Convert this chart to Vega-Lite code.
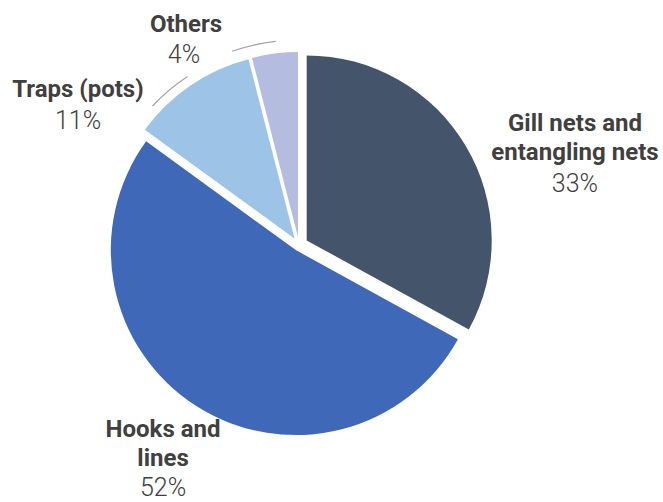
{
  "$schema": "https://vega.github.io/schema/vega-lite/v6.json",
  "autosize": {"type": "none"},
  "width": 598,
  "height": 490,
  "padding": {"left": 0, "top": 0, "right": 65, "bottom": 12},
  "background": "white",
  "config": {"view": {"stroke": null}},
  "data": {
    "values": [
      {"key": "gill", "name": "Gill nets and\nentangling nets", "pct": "33%", "value": 33, "order": 1},
      {"key": "hooks", "name": "Hooks and\nlines", "pct": "52%", "value": 52, "order": 2},
      {"key": "traps", "name": "Traps (pots)", "pct": "11%", "value": 11, "order": 3},
      {"key": "others", "name": "Others", "pct": "4%", "value": 4, "order": 4}
    ]
  },
  "transform": [
    {"stack": "value", "groupby": [], "sort": [{"field": "order", "order": "ascending"}], "as": ["v0", "v1"]}
  ],
  "layer": [
    {
      "transform": [{"filter": {"field": "key", "equal": "gill"}}],
      "mark": {"type": "arc", "radius": 185, "xOffset": 7.7, "yOffset": -4.6},
      "encoding": {
        "theta": {"field": "v0", "type": "quantitative", "stack": null, "scale": {"domain": [0, 100], "range": [0, 6.283185307]}},
        "theta2": {"field": "v1"},
        "color": {"field": "key", "type": "nominal", "legend": null, "scale": {"domain": ["gill", "hooks", "traps", "others"], "range": ["#44546A", "#3F69B8", "#9DC3E6", "#B4BDE0"]}}
      }
    },
    {
      "transform": [{"filter": {"field": "key", "equal": "hooks"}}],
      "mark": {"type": "arc", "radius": 185, "xOffset": -3.2, "yOffset": 5.1},
      "encoding": {
        "theta": {"field": "v0", "type": "quantitative", "stack": null, "scale": {"domain": [0, 100], "range": [0, 6.283185307]}},
        "theta2": {"field": "v1"},
        "color": {"field": "key", "type": "nominal", "legend": null, "scale": {"domain": ["gill", "hooks", "traps", "others"], "range": ["#44546A", "#3F69B8", "#9DC3E6", "#B4BDE0"]}}
      }
    },
    {
      "transform": [{"filter": {"field": "key", "equal": "traps"}}],
      "mark": {"type": "arc", "radius": 185, "xOffset": -4.5, "yOffset": -6.6},
      "encoding": {
        "theta": {"field": "v0", "type": "quantitative", "stack": null, "scale": {"domain": [0, 100], "range": [0, 6.283185307]}},
        "theta2": {"field": "v1"},
        "color": {"field": "key", "type": "nominal", "legend": null, "scale": {"domain": ["gill", "hooks", "traps", "others"], "range": ["#44546A", "#3F69B8", "#9DC3E6", "#B4BDE0"]}}
      }
    },
    {
      "transform": [{"filter": {"field": "key", "equal": "others"}}],
      "mark": {"type": "arc", "radius": 185, "xOffset": -1.0, "yOffset": -7.9},
      "encoding": {
        "theta": {"field": "v0", "type": "quantitative", "stack": null, "scale": {"domain": [0, 100], "range": [0, 6.283185307]}},
        "theta2": {"field": "v1"},
        "color": {"field": "key", "type": "nominal", "legend": null, "scale": {"domain": ["gill", "hooks", "traps", "others"], "range": ["#44546A", "#3F69B8", "#9DC3E6", "#B4BDE0"]}}
      }
    },
    {
      "transform": [{"filter": {"field": "key", "equal": "traps"}}],
      "mark": {"type": "arc", "radius": 202, "radius2": 202, "thetaOffset": 0.1309, "theta2Offset": 0.3578, "fillOpacity": 0, "stroke": "#A6A6A6", "strokeWidth": 1.3},
      "encoding": {
        "theta": {"field": "v0", "type": "quantitative", "stack": null, "scale": {"domain": [0, 100], "range": [0, 6.283185307]}},
        "theta2": {"field": "v0"}
      }
    },
    {
      "transform": [{"filter": {"field": "key", "equal": "others"}}],
      "mark": {"type": "arc", "radius": 205, "radius2": 205, "thetaOffset": -0.0816, "theta2Offset": 0.1379, "fillOpacity": 0, "stroke": "#A6A6A6", "strokeWidth": 1.3},
      "encoding": {
        "theta": {"field": "v0", "type": "quantitative", "stack": null, "scale": {"domain": [0, 100], "range": [0, 6.283185307]}},
        "theta2": {"field": "v0"}
      }
    },
    {
      "transform": [{"filter": {"field": "key", "equal": "gill"}}],
      "mark": {"type": "text", "radius": 301.4, "thetaOffset": 1.157, "font": "Roboto", "fontWeight": "bold", "fontSize": 24, "fill": "#404040", "lineBreak": "\n", "lineHeight": 29, "align": "center", "baseline": "middle"},
      "encoding": {
        "theta": {"field": "v0", "type": "quantitative", "stack": null, "scale": {"domain": [0, 100], "range": [0, 6.283185307]}},
        "text": {"field": "name"}
      }
    },
    {
      "transform": [{"filter": {"field": "key", "equal": "gill"}}],
      "mark": {"type": "text", "radius": 282.7, "thetaOffset": 1.352, "font": "Roboto", "fontWeight": 300, "fontSize": 25, "fill": "#404040", "align": "center", "baseline": "middle"},
      "encoding": {
        "theta": {"field": "v0", "type": "quantitative", "stack": null, "scale": {"domain": [0, 100], "range": [0, 6.283185307]}},
        "text": {"field": "pct"}
      }
    },
    {
      "transform": [{"filter": {"field": "key", "equal": "hooks"}}],
      "mark": {"type": "text", "radius": 229.6, "thetaOffset": 1.702, "font": "Roboto", "fontWeight": "bold", "fontSize": 24, "fill": "#404040", "lineBreak": "\n", "lineHeight": 29, "align": "center", "baseline": "middle"},
      "encoding": {
        "theta": {"field": "v0", "type": "quantitative", "stack": null, "scale": {"domain": [0, 100], "range": [0, 6.283185307]}},
        "text": {"field": "name"}
      }
    },
    {
      "transform": [{"filter": {"field": "key", "equal": "hooks"}}],
      "mark": {"type": "text", "radius": 278.5, "thetaOffset": 1.578, "font": "Roboto", "fontWeight": 300, "fontSize": 25, "fill": "#404040", "align": "center", "baseline": "middle"},
      "encoding": {
        "theta": {"field": "v0", "type": "quantitative", "stack": null, "scale": {"domain": [0, 100], "range": [0, 6.283185307]}},
        "text": {"field": "pct"}
      }
    },
    {
      "transform": [{"filter": {"field": "key", "equal": "traps"}}],
      "mark": {"type": "text", "radius": 270, "thetaOffset": -0.017, "font": "Roboto", "fontWeight": "bold", "fontSize": 24, "fill": "#404040", "align": "center", "baseline": "middle"},
      "encoding": {
        "theta": {"field": "v0", "type": "quantitative", "stack": null, "scale": {"domain": [0, 100], "range": [0, 6.283185307]}},
        "text": {"field": "name"}
      }
    },
    {
      "transform": [{"filter": {"field": "key", "equal": "traps"}}],
      "mark": {"type": "text", "radius": 253.4, "thetaOffset": -0.117, "font": "Roboto", "fontWeight": 300, "fontSize": 25, "fill": "#404040", "align": "center", "baseline": "middle"},
      "encoding": {
        "theta": {"field": "v0", "type": "quantitative", "stack": null, "scale": {"domain": [0, 100], "range": [0, 6.283185307]}},
        "text": {"field": "pct"}
      }
    },
    {
      "transform": [{"filter": {"field": "key", "equal": "others"}}],
      "mark": {"type": "text", "radius": 247.3, "thetaOffset": -0.223, "font": "Roboto", "fontWeight": "bold", "fontSize": 24, "fill": "#404040", "align": "center", "baseline": "middle"},
      "encoding": {
        "theta": {"field": "v0", "type": "quantitative", "stack": null, "scale": {"domain": [0, 100], "range": [0, 6.283185307]}},
        "text": {"field": "name"}
      }
    },
    {
      "transform": [{"filter": {"field": "key", "equal": "others"}}],
      "mark": {"type": "text", "radius": 222.1, "thetaOffset": -0.293, "font": "Roboto", "fontWeight": 300, "fontSize": 25, "fill": "#404040", "align": "center", "baseline": "middle"},
      "encoding": {
        "theta": {"field": "v0", "type": "quantitative", "stack": null, "scale": {"domain": [0, 100], "range": [0, 6.283185307]}},
        "text": {"field": "pct"}
      }
    }
  ]
}
